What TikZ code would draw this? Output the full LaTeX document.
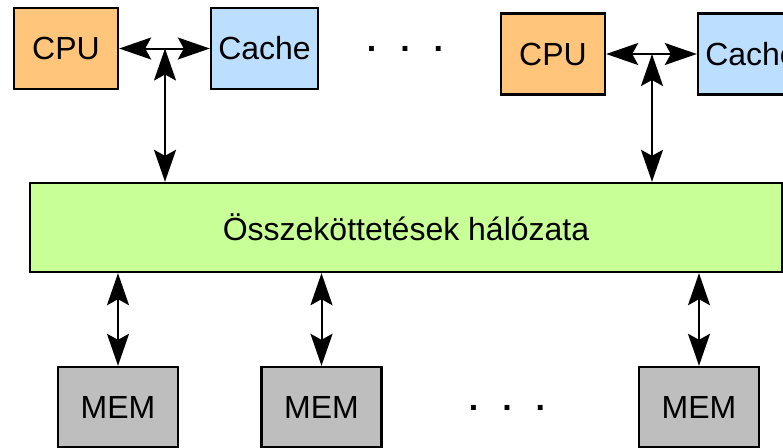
\documentclass[tikz,border=0pt]{standalone}
\usepackage{fontspec}
\setmainfont{Liberation Sans}
\usetikzlibrary{arrows.meta}

\definecolor{cpucol}{HTML}{FFC57A}
\definecolor{cachecol}{HTML}{BCDFFF}
\definecolor{buscol}{HTML}{C8FF96}
\definecolor{memcol}{HTML}{BEBEBE}

\tikzset{
  box/.style={draw,line width=1.2pt,inner sep=0pt,font=\fontsize{16}{19}\selectfont},
  cpubox/.style={box,fill=cpucol,minimum width=52pt,minimum height=40.5pt},
  cachebox/.style={box,fill=cachecol,minimum width=53.5pt,minimum height=40.5pt},
  membox/.style={box,fill=memcol,minimum width=60pt,minimum height=40pt},
  dots/.style={anchor=base,font=\fontsize{17}{20}\selectfont\bfseries},
}

\begin{document}
\begin{tikzpicture}[x=0.5pt,y=-0.5pt,line width=1pt,
    >={Stealth[length=16pt,width=11pt,inset=3pt]}]
    \useasboundingbox (0,0) rectangle (783,447);
    \clip (0,0) rectangle (783,447);

    \node[cpubox] (cpuA) at (66,48.5) {CPU};
    \node[cachebox] (cacheA) at (264.5,48.5) {Cache};
    \node[cpubox] (cpuB) at (553,54) {CPU};
    \node[cachebox] (cacheB) at (751.5,54) {Cache};
    \node[dots] (dotsA) at (405,51) {.\hspace{12pt}.\hspace{12pt}.};

    \node[box,fill=buscol,minimum width=376pt,minimum height=44.5pt] (bus)
        at (406,227.5) {Összeköttetések hálózata};

    \node[membox] (memA) at (118,407) {MEM};
    \node[membox] (memB) at (321.5,407) {MEM};
    \node[membox] (memC) at (699,407) {MEM};
    \node[dots] (dotsB) at (507,410) {.\hspace{12pt}.\hspace{12pt}.};

    \coordinate (jA) at (165,48.5);
    \coordinate (jB) at (652,54);

    \draw[<->] (cpuA) -- (cacheA);
    \draw[<->] (cpuB) -- (cacheB);
    \draw[<->] (jA) -- (jA |- bus.north);
    \draw[<->] (jB) -- (jB |- bus.north);

    \draw[<->] (bus.south -| memA) -- (memA);
    \draw[<->] (bus.south -| memB) -- (memB);
    \draw[<->] (bus.south -| memC) -- (memC);
\end{tikzpicture}
\end{document}
